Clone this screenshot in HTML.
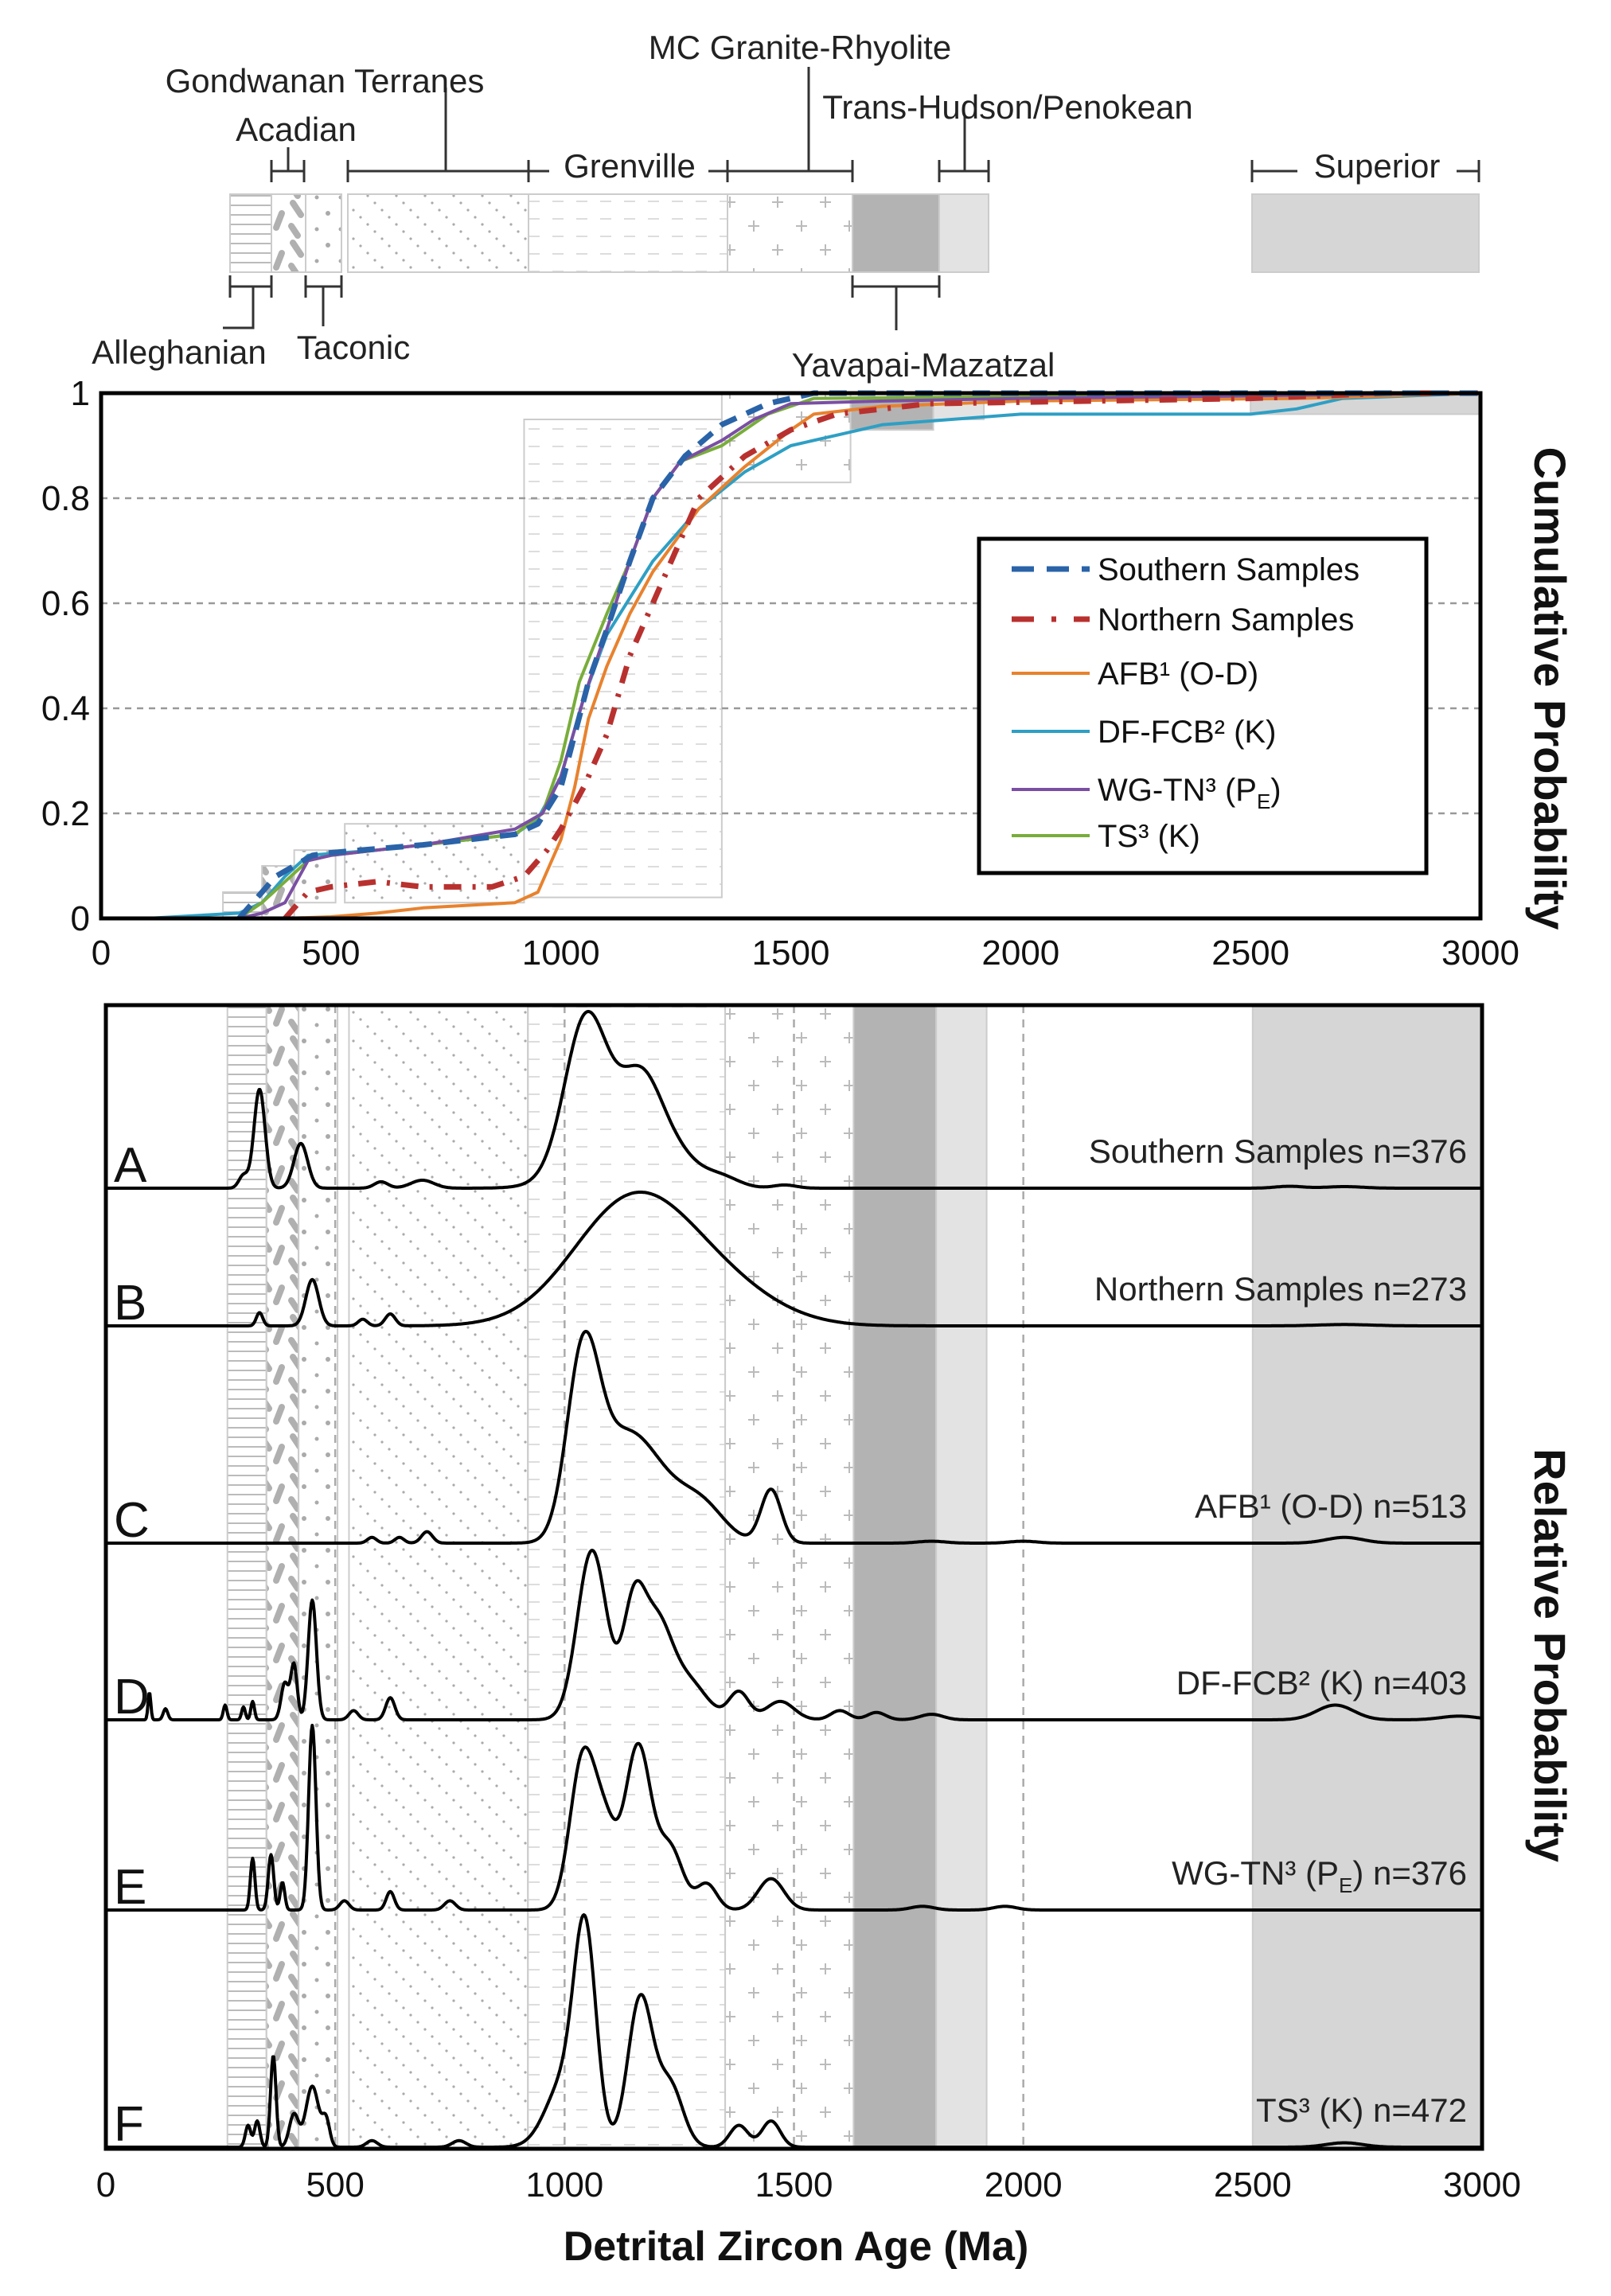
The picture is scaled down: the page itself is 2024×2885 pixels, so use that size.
<!DOCTYPE html>
<html><head><meta charset="utf-8"><style>
html,body{margin:0;padding:0;background:#fff}
svg{display:block;font-family:"Liberation Sans",Arial,sans-serif}
</style></head><body>
<svg id="fig" width="2024" height="2885" viewBox="0 0 2024 2885" xmlns="http://www.w3.org/2000/svg">
<defs>
<pattern id="pH" width="20" height="12" patternUnits="userSpaceOnUse"><line x1="0" y1="6" x2="20" y2="6" stroke="#bbb" stroke-width="2"/></pattern>
<pattern id="pB" width="40" height="50" patternUnits="userSpaceOnUse"><line x1="8" y1="5" x2="18" y2="20" stroke="#b0b0b0" stroke-width="8" stroke-linecap="round"/><line x1="34" y1="18" x2="27" y2="36" stroke="#b0b0b0" stroke-width="8" stroke-linecap="round"/><line x1="6" y1="34" x2="14" y2="46" stroke="#b0b0b0" stroke-width="8" stroke-linecap="round"/></pattern>
<pattern id="pD" width="30" height="40" patternUnits="userSpaceOnUse"><circle cx="8" cy="8" r="2.5" fill="#aaa"/><circle cx="22" cy="28" r="3" fill="#aaa"/></pattern>
<pattern id="pG" width="36" height="36" patternUnits="userSpaceOnUse"><circle cx="3" cy="3" r="1.6" fill="#aaa"/><circle cx="12" cy="12" r="1.6" fill="#aaa"/><circle cx="21" cy="21" r="1.6" fill="#aaa"/><circle cx="30" cy="30" r="1.6" fill="#aaa"/></pattern>
<pattern id="pR" width="30" height="22" patternUnits="userSpaceOnUse"><line x1="4" y1="11" x2="18" y2="11" stroke="#ddd" stroke-width="2"/></pattern>
<pattern id="pP" width="60" height="60" patternUnits="userSpaceOnUse"><path d="M10 14h14M17 7v14M40 44h14M47 37v14" stroke="#bbb" stroke-width="2" fill="none"/></pattern>
</defs>
<g id="topbar"></g>
<g id="cum"></g>
<g id="rel"></g>
</svg>
<script>
const NS="http://www.w3.org/2000/svg";
function mk(parent,tag,attrs,text){const e=document.createElementNS(NS,tag);for(const k in attrs)e.setAttribute(k,attrs[k]);if(text!==undefined)e.textContent=text;parent.appendChild(e);return e;}

// ---------- data ----------
const provinceNames=["Alleghanian","Acadian","Taconic","Gondwanan Terranes","Grenville","MC Granite-Rhyolite","Yavapai-Mazatzal","Trans-Hudson/Penokean","Superior"];
const provinceStart=[265,350,420,530,920,1350,1630,1810,2500];
const provinceEnd=[350,420,505,920,1350,1630,1810,1920,3000];
const provinceFill=["url(#pH)","url(#pB)","url(#pD)","url(#pG)","url(#pR)","url(#pP)","#b3b3b3","#e3e3e3","#d6d6d6"];
const xTicks=[0,500,1000,1500,2000,2500,3000];
const yTicks=[0,0.2,0.4,0.6,0.8,1];

const seriesNames=["Southern Samples","Northern Samples","AFB¹ (O-D)","DF-FCB² (K)","WG-TN³ (P","TS³ (K)"];
const seriesColors=["#2a63a8","#b8312f","#e8822e","#2e9fc4","#7a4fa3","#79ad3b"];
const southAges=[300,340,380,420,460,500,700,900,950,1000,1030,1060,1100,1150,1200,1270,1350,1450,1550,3000];
const southCum=[0,0.04,0.08,0.1,0.12,0.125,0.14,0.16,0.18,0.25,0.35,0.45,0.55,0.68,0.8,0.88,0.94,0.98,1,1];
const northAges=[400,450,500,600,700,850,920,970,1000,1050,1100,1150,1200,1250,1300,1400,1500,1600,1800,2500,2800,3000];
const northCum=[0,0.05,0.06,0.07,0.06,0.06,0.08,0.13,0.17,0.25,0.35,0.5,0.6,0.7,0.8,0.88,0.93,0.96,0.98,0.99,1,1];
const afbAges=[400,500,600,700,900,950,1000,1030,1060,1100,1150,1200,1300,1400,1500,1550,1700,2000,2600,3000];
const afbCum=[0,0.003,0.01,0.02,0.03,0.05,0.15,0.25,0.38,0.48,0.58,0.66,0.78,0.86,0.93,0.96,0.975,0.985,0.99,1];
const dfAges=[100,300,350,400,450,600,700,900,950,1000,1050,1100,1200,1250,1300,1400,1500,1600,1700,2000,2500,2600,2700,3000];
const dfCum=[0,0.01,0.03,0.08,0.12,0.13,0.14,0.16,0.19,0.27,0.42,0.54,0.68,0.73,0.78,0.85,0.9,0.92,0.94,0.96,0.96,0.97,0.99,1];
const wgAges=[300,350,400,450,500,700,900,960,1000,1050,1100,1150,1200,1260,1350,1420,1500,1700,2000,3000];
const wgCum=[0,0.01,0.03,0.11,0.12,0.14,0.17,0.2,0.27,0.42,0.55,0.68,0.8,0.87,0.91,0.95,0.98,0.985,0.99,1];
const tsAges=[300,350,400,450,500,700,900,960,1000,1040,1100,1150,1200,1260,1350,1450,1550,3000];
const tsCum=[0,0.03,0.07,0.11,0.12,0.14,0.16,0.2,0.3,0.45,0.58,0.68,0.8,0.87,0.9,0.96,0.99,1];
const cumAges=[southAges,northAges,afbAges,dfAges,wgAges,tsAges];
const cumVals=[southCum,northCum,afbCum,dfCum,wgCum,tsCum];

const panelLetters=["A","B","C","D","E","F"];
const panelLabels=["Southern Samples n=376","Northern Samples n=273","AFB¹ (O-D) n=513","DF-FCB² (K) n=403","WG-TN³ (P","TS³ (K) n=472"];
const aCenters=[300,335,425,600,690,1045,1100,1170,1250,1340,1480,2580,2700];
const aAmps=[0.08,0.62,0.28,0.04,0.05,0.85,0.3,0.5,0.15,0.07,0.02,0.012,0.01];
const aWidths=[10,12,15,15,25,45,80,45,45,40,25,30,40];
const bCenters=[335,450,560,620,1150,1350,2700];
const bAmps=[0.1,0.35,0.05,0.09,0.95,0.22,0.01];
const bWidths=[7,14,10,11,130,120,60];
const cCenters=[580,640,700,1040,1120,1200,1300,1450,1800,2000,2700];
const cAmps=[0.03,0.03,0.06,0.9,0.45,0.25,0.18,0.28,0.01,0.01,0.03];
const cWidths=[10,10,12,35,60,60,50,22,30,30,40];
const dCenters=[95,130,260,300,320,390,410,450,540,620,1060,1150,1200,1270,1380,1470,1600,1680,1800,2680,2950];
const dAmps=[0.15,0.06,0.08,0.07,0.1,0.2,0.3,0.65,0.05,0.12,0.92,0.55,0.5,0.2,0.15,0.1,0.05,0.04,0.03,0.08,0.02];
const dWidths=[3,5,4,4,4,8,7,9,10,10,32,24,33,40,22,30,20,20,25,40,40];
const eCenters=[320,360,385,450,520,620,750,1040,1090,1160,1230,1310,1450,1780,1960];
const eAmps=[0.28,0.3,0.15,1.0,0.05,0.1,0.05,0.82,0.38,0.88,0.33,0.14,0.17,0.02,0.02];
const eWidths=[5,6,5,8,10,9,12,28,25,28,28,22,28,25,25];
const fCenters=[310,330,365,410,450,480,580,770,1000,1045,1165,1230,1380,1450,2700];
const fAmps=[0.1,0.12,0.42,0.15,0.28,0.12,0.03,0.03,0.3,0.9,0.68,0.28,0.1,0.12,0.02];
const fWidths=[6,6,6,10,14,8,12,15,40,24,27,28,20,20,40];
const peakCenters=[aCenters,bCenters,cCenters,dCenters,eCenters,fCenters];
const peakAmps=[aAmps,bAmps,cAmps,dAmps,eAmps,fAmps];
const peakWidths=[aWidths,bWidths,cWidths,dWidths,eWidths,fWidths];

// ---------- layout ----------
const svg=document.getElementById('fig');
const TL=127,TR=1860,TT=494,TB=1154;
const BL=133,BR=1862,BT=1263,BB=2700;
const xTop=a=>TL+a/3000*(TR-TL);
const yTop=v=>TB-v*(TB-TT);
const xBot=a=>BL+a/3000*(BR-BL);
const baselines=[1493,1666,1939,2161,2400,2698];
const heights=[222,168,266,213,232,292];

// ---------- top province bar ----------
const tb=document.getElementById('topbar');
const barX=[289,341,384,437,664,914,1071,1180,1573];
const barX2=[341,384,429,664,914,1071,1180,1242,1858];
for(let i=0;i<provinceNames.length;i++){
  const r=mk(tb,'rect',{x:barX[i],y:244,width:barX2[i]-barX[i],height:98,fill:provinceFill[i],stroke:'#ccc','stroke-width':2});
  
  
}
function br(x1,x2,y,stemX,stemY){
  const g=mk(tb,'g',{stroke:'#333','stroke-width':3,fill:'none'});
  
  
  mk(g,'path',{d:`M${x1} ${y}H${x2}M${x1} ${y-14}v28M${x2} ${y-14}v28`});
  if(stemX!==null)mk(g,'path',{d:`M${stemX} ${y}V${stemY}`});
}
br(341,382,215,362,185);
br(437,664,215,560,110);
br(914,1071,215,1016,84);
br(1180,1242,215,1212,145);
br(289,341,360,318,398);
br(384,429,360,406,410);
br(1071,1180,360,1126,415);
mk(tb,'path',{d:'M664 215H690M890 215H914M914 201v28',stroke:'#333','stroke-width':3,fill:'none'});
mk(tb,'path',{d:'M1573 215H1630M1830 215H1858M1573 201v28M1858 201v28',stroke:'#333','stroke-width':3,fill:'none'});
mk(tb,'path',{d:'M318 398V412H280',stroke:'#333','stroke-width':3,fill:'none'});
const annTexts=["MC Granite-Rhyolite","Gondwanan Terranes","Acadian","Trans-Hudson/Penokean","Grenville","Superior","Alleghanian","Taconic","Yavapai-Mazatzal"];
const annX=[1005,408,372,1266,791,1730,225,444,1160];
const annY=[74,116,177,149,223,223,457,451,473];
for(let i=0;i<annTexts.length;i++){
  const t=mk(tb,'text',{x:annX[i],y:annY[i],'font-size':42,'text-anchor':'middle',fill:'#222'},annTexts[i]);
  
  
}

// ---------- cumulative plot ----------
const cg=document.getElementById('cum');
const boxAges1=[[265,350,0,0.05],[350,420,0,0.1],[420,510,0.03,0.13],[530,920,0.03,0.18],[920,1350,0.04,0.95],[1350,1630,0.83,1],[1630,1810,0.93,0.99],[1810,1920,0.95,0.99],[2500,3000,0.96,1]];
for(let i=0;i<boxAges1.length;i++){
  const b=boxAges1[i];
  const r=mk(cg,'rect',{x:xTop(b[0]),y:yTop(b[3]),width:xTop(b[1])-xTop(b[0]),height:yTop(b[2])-yTop(b[3]),fill:provinceFill[i],stroke:'#ccc','stroke-width':2});
  
  
}
yTicks.forEach(v=>{
  if(v>0&&v<1){const l=mk(cg,'line',{x1:TL,x2:TR,y1:yTop(v),y2:yTop(v),stroke:'#999','stroke-width':2.5,'stroke-dasharray':'8 7'});
  
  }
  const t=mk(cg,'text',{x:TL-14,y:yTop(v)+15,'font-size':44,'text-anchor':'end',fill:'#111'},String(v));
  
  
});
xTicks.forEach(a=>{
  const t=mk(cg,'text',{x:xTop(a),y:TB+58,'font-size':44,'text-anchor':'middle',fill:'#111'},String(a));
  
  
});
const dashes=['22 14','22 14 4 14',null,null,null,null];
const widths=[7,7,4,4,4,4];
const order=[3,2,5,4,1,0];
order.forEach(s=>{
  let d='';cumAges[s].forEach((a,i)=>{d+=(i?'L':'M')+xTop(a).toFixed(1)+' '+yTop(cumVals[s][i]).toFixed(1);});
  const p=mk(cg,'path',{d:d,fill:'none',stroke:seriesColors[s],'stroke-width':widths[s],'stroke-linejoin':'round'});
  if(dashes[s])p.setAttribute('stroke-dasharray',dashes[s]);
  
  
});
const frame=mk(cg,'rect',{x:TL,y:TT,width:TR-TL,height:TB-TT,fill:'none',stroke:'#000','stroke-width':5});


const lg=mk(cg,'g',{});


mk(lg,'rect',{x:1230,y:677,width:562,height:420,fill:'#fff',stroke:'#000','stroke-width':5});
const legY=[715,778,846,919,992,1050];
seriesNames.forEach((n,s)=>{
  const e=mk(lg,'g',{});
  
  
  const l=mk(e,'line',{x1:1271,x2:1369,y1:legY[s],y2:legY[s],stroke:seriesColors[s],'stroke-width':widths[s]});
  if(dashes[s])l.setAttribute('stroke-dasharray',s==0?'28 16':'28 22 6 22');
  const t=mk(e,'text',{x:1379,y:legY[s]+14,'font-size':40,fill:'#111'},n);
  if(s==4){mk(t,'tspan',{'font-size':26,dy:10},'E');mk(t,'tspan',{dy:-10},')');}
});
const ct=mk(svg,'text',{x:0,y:0,'font-size':56,'font-weight':'bold','text-anchor':'middle',fill:'#111',transform:'translate(1928,865) rotate(90)'},'Cumulative Probability');



// ---------- relative probability plot ----------
const rg=document.getElementById('rel');
provinceNames.forEach((n,i)=>{
  const r=mk(rg,'rect',{x:xBot(provinceStart[i]),y:BT,width:xBot(provinceEnd[i])-xBot(provinceStart[i]),height:BB-BT,fill:provinceFill[i],stroke:'#ccc','stroke-width':2});
  
  
});
[500,1000,1500,2000].forEach(a=>{
  const l=mk(rg,'line',{x1:xBot(a),x2:xBot(a),y1:BT,y2:BB,stroke:'#aaa','stroke-width':2.5,'stroke-dasharray':'10 8'});
  
  
});
for(let p=0;p<6;p++){
  const vals=[];let mx=0;
  for(let a=0;a<=3000;a+=2){let v=0;
    for(let k=0;k<peakCenters[p].length;k++){const z=(a-peakCenters[p][k])/peakWidths[p][k];v+=peakAmps[p][k]*Math.exp(-0.5*z*z);}
    vals.push(v);if(v>mx)mx=v;}
  let d='';
  vals.forEach((v,i)=>{d+=(i?'L':'M')+xBot(i*2).toFixed(1)+' '+(baselines[p]-v/mx*heights[p]).toFixed(1);});
  const path=mk(rg,'path',{d:d,fill:'none',stroke:'#000','stroke-width':4,'stroke-linejoin':'round'});
  
  
  const L=mk(rg,'text',{x:143,y:baselines[p]-8,'font-size':62,fill:'#111'},panelLetters[p]);
  
  
  const lab=mk(rg,'text',{x:1843,y:baselines[p]-32,'font-size':42,'text-anchor':'end',fill:'#222'},panelLabels[p]);
  if(p==4){mk(lab,'tspan',{'font-size':26,dy:10},'E');mk(lab,'tspan',{dy:-10},') n=376');}
  
  
}
const f2=mk(rg,'rect',{x:BL,y:BT,width:BR-BL,height:BB-BT,fill:'none',stroke:'#000','stroke-width':5});


xTicks.forEach(a=>{
  const t=mk(rg,'text',{x:xBot(a),y:BB+60,'font-size':44,'text-anchor':'middle',fill:'#111'},String(a));
  
  
});
const xt=mk(svg,'text',{x:1000,y:2840,'font-size':52,'font-weight':'bold','text-anchor':'middle',fill:'#111'},'Detrital Zircon Age (Ma)');


const rt=mk(svg,'text',{x:0,y:0,'font-size':56,'font-weight':'bold','text-anchor':'middle',fill:'#111',transform:'translate(1928,2080) rotate(90)'},'Relative Probability');


</script>
</body></html>
